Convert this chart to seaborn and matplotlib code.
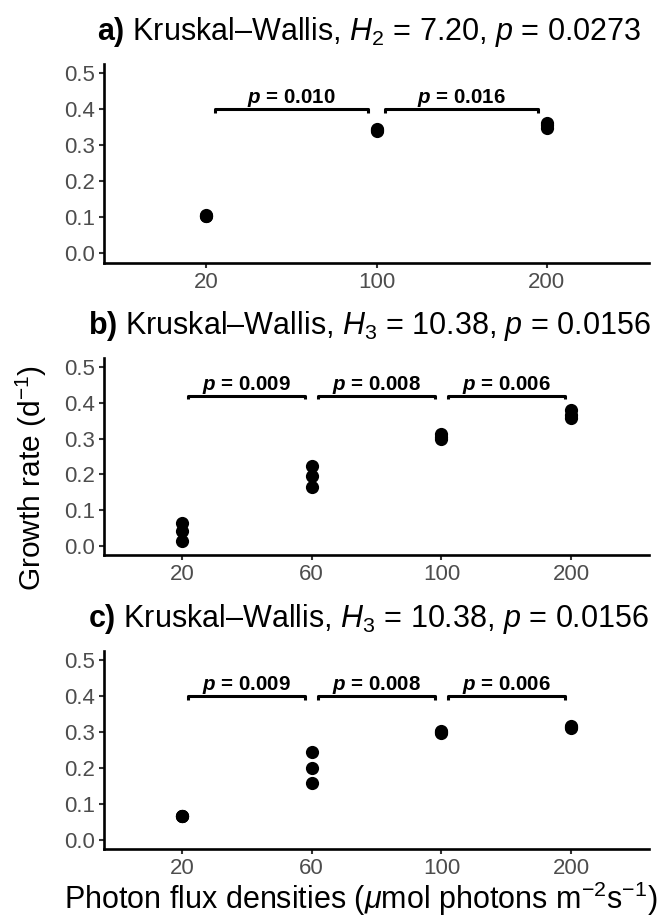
import numpy as np
import pandas as pd
import matplotlib
matplotlib.use("Agg")
import matplotlib.pyplot as plt
import seaborn as sns

# light levels (photon flux densities) for each panel
levels_a = ["20", "100", "200"]
levels_bc = ["20", "60", "100", "200"]

# growth rates, three replicates per light level
growth_a = [[0.104, 0.105, 0.106],
            [0.338, 0.342, 0.346],
            [0.348, 0.355, 0.362]]
growth_b = [[0.014, 0.042, 0.065],
            [0.165, 0.196, 0.224],
            [0.298, 0.305, 0.312],
            [0.357, 0.365, 0.380]]
growth_c = [[0.066, 0.067, 0.068],
            [0.157, 0.199, 0.245],
            [0.296, 0.300, 0.303],
            [0.310, 0.314, 0.318]]

# pairwise p values between neighbouring levels
pvals_a = ["0.010", "0.016"]
pvals_b = ["0.009", "0.008", "0.006"]
pvals_c = ["0.009", "0.008", "0.006"]

titles = [
    r"$\mathbf{a)}$ Kruskal–Wallis, $H_2$ = 7.20, $p$ = 0.0273",
    r"$\mathbf{b)}$ Kruskal–Wallis, $H_3$ = 10.38, $p$ = 0.0156",
    r"$\mathbf{c)}$ Kruskal–Wallis, $H_3$ = 10.38, $p$ = 0.0156",
]

sns.set_theme(style="ticks")
plt.rcParams['font.family'] = ['Liberation Sans', 'DejaVu Sans']
plt.rcParams['text.color'] = 'black'
plt.rcParams['mathtext.fontset'] = 'custom'
plt.rcParams['mathtext.rm'] = 'Liberation Sans'
plt.rcParams['mathtext.it'] = 'Liberation Sans:italic'
plt.rcParams['mathtext.bf'] = 'Liberation Sans:bold'
if 'mathtext.bfit' in plt.rcParams:
    plt.rcParams['mathtext.bfit'] = 'Liberation Sans:bold:italic'
    p_bold = r"$\mathbfit{p}$"
else:
    p_bold = r"$\mathbf{p}$"


def draw_panel(ax, levels, values, pvals, title, bar_y):
    df = pd.DataFrame({
        "level": np.repeat(levels, [len(v) for v in values]),
        "rate": np.concatenate(values),
    })
    sns.stripplot(data=df, x="level", y="rate", order=levels, jitter=False,
                  color="black", size=9.5, linewidth=0, ax=ax)

    # comparison brackets
    for i, p in enumerate(pvals):
        x0, x1 = i + 0.05, i + 1 - 0.05
        ax.plot([x0, x0, x1, x1], [bar_y - 0.01, bar_y, bar_y, bar_y - 0.01],
                color="black", lw=2.2, solid_capstyle="butt", clip_on=False)
        ax.text(i + 0.5, bar_y + 0.017, p_bold + " = " + p, ha="center",
                va="baseline", fontsize=14.8, fontweight="bold", color="black")

    ax.set_xlim(-0.6, len(levels) - 0.4)
    ax.set_ylim(-0.025, 0.525)
    ax.set_yticks([0.0, 0.1, 0.2, 0.3, 0.4, 0.5])
    ax.set_yticklabels(["0.0", "0.1", "0.2", "0.3", "0.4", "0.5"])
    ax.set_xlabel("")
    ax.set_ylabel("")
    ax.set_title(title, fontsize=22, pad=17, x=0.486, color="black")
    sns.despine(ax=ax)
    for s in ["left", "bottom"]:
        ax.spines[s].set_linewidth(1.9)
        ax.spines[s].set_color("black")
    ax.tick_params(length=3.5, width=1.5, color="#333333",
                   labelcolor="#4D4D4D", labelsize=16, pad=3)


fig = plt.figure(figsize=(6.57, 9.19), dpi=100)
left, width = 104 / 657, 545 / 657
boxes = [(64, 262.5), (358, 555), (651, 849)]
axes = []
for top, bottom in boxes:
    axes.append(fig.add_axes([left, 1 - bottom / 919, width, (bottom - top) / 919]))

draw_panel(axes[0], levels_a, growth_a, pvals_a, titles[0], 0.40)
draw_panel(axes[1], levels_bc, growth_b, pvals_b, titles[1], 0.42)
draw_panel(axes[2], levels_bc, growth_c, pvals_c, titles[2], 0.40)

fig.text(31 / 657, 1 - 478 / 919, r"Growth rate (d$^{-1}$)", rotation=90,
         ha="center", va="center", fontsize=21.5, color="black")
fig.text(361 / 657, 1 - 899 / 919,
         r"Photon flux densities ($\mu$mol photons m$^{-2}$s$^{-1}$)",
         ha="center", va="center", fontsize=22, color="black")

fig.savefig("out.png", dpi=100)
